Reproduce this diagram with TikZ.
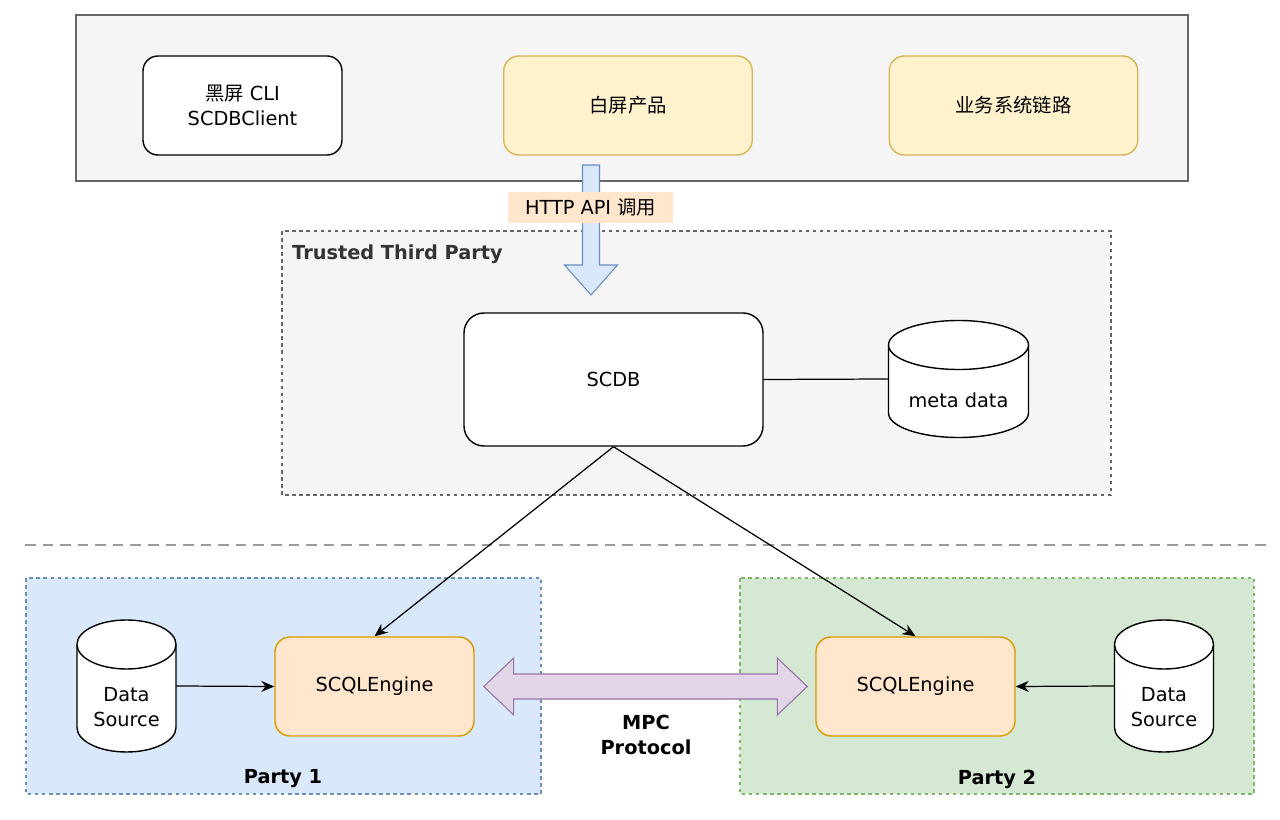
\documentclass[tikz,border=0pt]{standalone}
\usepackage{fontspec}
\setmainfont{DejaVu Sans}
\newfontfamily\cjk{Noto Sans CJK SC}
\usepackage{xcolor}
\usepackage{tikz}
\usetikzlibrary{shapes.geometric, arrows.meta, positioning, calc}
\definecolor{panelgray}{RGB}{245, 245, 245}
\definecolor{panelline}{RGB}{102, 102, 102}
\definecolor{softyellow}{RGB}{255, 242, 204}
\definecolor{yellowline}{RGB}{214, 182, 86}
\definecolor{softorange}{RGB}{255, 230, 204}
\definecolor{orangeline}{RGB}{215, 155, 0}
\definecolor{softblue}{RGB}{218, 232, 252}
\definecolor{blueline}{RGB}{108, 142, 191}
\definecolor{softgreen}{RGB}{213, 232, 212}
\definecolor{greenline}{RGB}{130, 179, 102}
\definecolor{softpurple}{RGB}{225, 213, 231}
\definecolor{purpleline}{RGB}{150, 115, 166}
\definecolor{sepgray}{RGB}{155, 155, 155}
\definecolor{labelgray}{RGB}{51, 51, 51}

% cylinder outline round an empty node: #1 node, #2 half width
\newcommand{\storeshape}[2]{%
  \draw[storeline] ($(#1.north west)+(0,24.5)$) coordinate (#1-l)
    arc[start angle=180, end angle=0, x radius=#2, y radius=4.9mm]
    -- ($(#1.south east)+(0,-24.5)$)
    arc[start angle=0, end angle=-180, x radius=#2, y radius=4.9mm] -- cycle;
  \draw[storeline] (#1-l) arc[start angle=180, end angle=360, x radius=#2, y radius=4.9mm];}

\begin{document}
\begin{tikzpicture}[
    x=0.2mm, y=-0.2mm,
    font=\fontsize{11}{14}\selectfont,
    box/.style={draw, rounded corners=3mm, minimum width=39.8mm,
                minimum height=19.8mm, align=center, line width=0.8pt},
    client/.style={box, fill=softyellow, draw=yellowline, minimum width=49.7mm},
    engine/.style={box, fill=softorange, draw=orangeline},
    store/.style={inner sep=0pt, outer sep=0pt},
    storeline/.style={draw, fill=white, line width=0.8pt},
    group/.style={fill=panelgray, draw=panelline, line width=0.6pt},
    dashgroup/.style={group, dash pattern=on 2pt off 2pt},
    grouplabel/.style={font=\fontsize{11}{14}\selectfont\bfseries, align=center},
    link/.style={-{Stealth[length=2.6mm, width=2.2mm]}, line width=0.7pt}
]
    \useasboundingbox (0,0) rectangle (1280,820);

    % callers
    \draw[group] (76,15) rectangle (1188,181);
    \node[box, fill=white] (cli) at (242.5,105.5) {{\cjk 黑屏} CLI\\SCDBClient};
    \node[client] (web) at (628,105.5) {\cjk 白屏产品};
    \node[client] (biz) at (1013.5,105.5) {\cjk 业务系统链路};

    % trusted third party
    \draw[dashgroup] (282,231) rectangle (1111,495);
    \node[grouplabel, text=labelgray, anchor=west] (ttp) at (286,254) {Trusted Third Party};
    \node[box, fill=white, rounded corners=4mm, minimum width=59.8mm,
          minimum height=26.6mm] (scdb) at (613.5,379.5) {SCDB};
    \node[store, minimum width=28mm, minimum height=23.4mm] (meta) at (958.5,379) {};
    \storeshape{meta}{14mm}
    \node (metatext) at ($(meta)+(0,21)$) {meta data};
    \draw[line width=0.7pt] (scdb.east) -- (meta.west);

    % http call
    \coordinate (apiTop) at (591,165);
    \coordinate (apiTip) at (591,295);
    \draw[fill=softblue, draw=blueline, line width=0.6pt]
        ($(apiTop)+(-8.5,0)$) -- ($(apiTop)+(8.5,0)$) -- ($(apiTip)+(8.5,-30)$)
        -- ($(apiTip)+(26.5,-30)$) -- (apiTip) -- ($(apiTip)+(-26.5,-30)$)
        -- ($(apiTip)+(-8.5,-30)$) -- cycle;
    \node[fill=softorange, minimum width=33mm, minimum height=6.2mm] (api)
        at (590.5,207.5) {HTTP API {\cjk 调用}};

    % separator
    \draw[sepgray, line width=1.7pt, dash pattern=on 6pt off 4pt] (25,545) -- (1270,545);

    % parties
    \draw[dashgroup, fill=softblue, draw=blueline] (26,578) rectangle (541,794);
    \draw[dashgroup, fill=softgreen, draw=greenline] (740,578) rectangle (1254,794);
    \node[grouplabel] (p1) at (283,779) {Party 1};
    \node[grouplabel] (p2) at (997,779) {Party 2};

    \node[engine] (se1) at (374.5,686.5) {SCQLEngine};
    \node[engine] (se2) at (915.5,686.5) {SCQLEngine};
    \node[store, minimum width=19.8mm, minimum height=26.4mm] (ds1) at (126.5,686) {};
    \storeshape{ds1}{9.9mm}
    \node[align=center] (ds1text) at ($(ds1)+(0,21)$) {Data\\Source};
    \node[store, minimum width=19.8mm, minimum height=26.4mm] (ds2) at (1164,686) {};
    \storeshape{ds2}{9.9mm}
    \node[align=center] (ds2text) at ($(ds2)+(0,21)$) {Data\\Source};

    \draw[link] (ds1.east) -- (se1.west);
    \draw[link] (ds2.west) -- (se2.east);
    \draw[link] (scdb.south) -- (se1.north);
    \draw[link] (scdb.south) -- (se2.north);

    % mpc
    \coordinate (mpcL) at ($(se1.east)+(9,0)$);
    \coordinate (mpcR) at ($(se2.west)+(-8,0)$);
    \draw[fill=softpurple, draw=purpleline, line width=0.6pt]
        (mpcL) -- ($(mpcL)+(30,-28.5)$) -- ($(mpcL)+(30,-12.5)$)
        -- ($(mpcR)+(-30,-12.5)$) -- ($(mpcR)+(-30,-28.5)$) -- (mpcR)
        -- ($(mpcR)+(-30,28.5)$) -- ($(mpcR)+(-30,12.5)$)
        -- ($(mpcL)+(30,12.5)$) -- ($(mpcL)+(30,28.5)$) -- cycle;
    \node[grouplabel] (mpc) at (646,735) {MPC\\Protocol};
\end{tikzpicture}
\end{document}
